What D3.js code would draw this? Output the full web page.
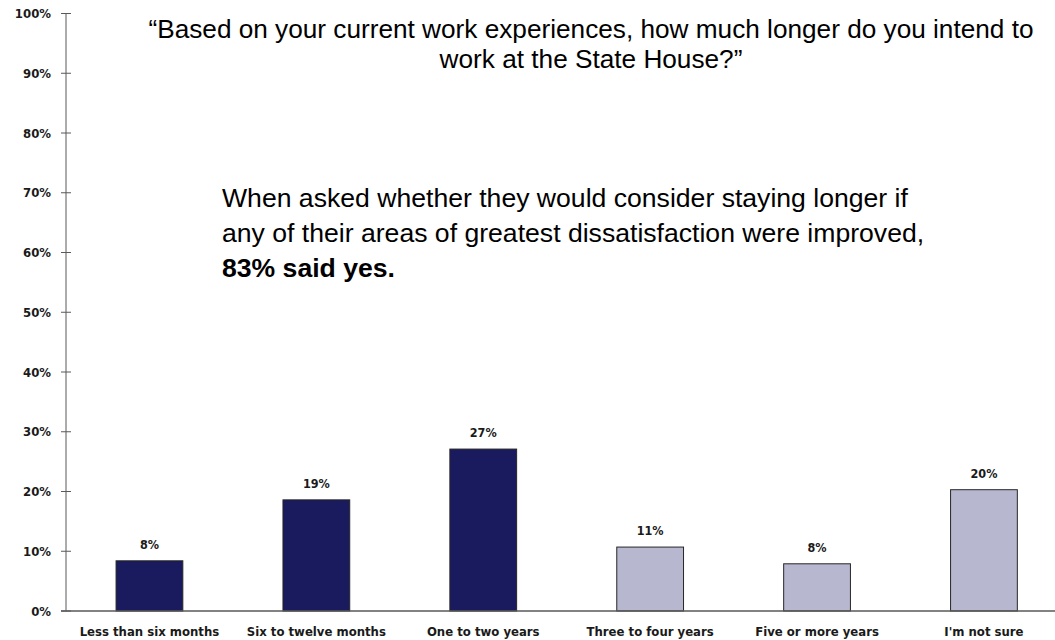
<!DOCTYPE html>
<html>
<head>
<meta charset="utf-8">
<script src="https://cdn.jsdelivr.net/npm/d3@7"></script>
<style>
  html, body { margin: 0; padding: 0; background: #fff; }
  svg { display: block; }
</style>
</head>
<body>
<svg id="chart" width="1055" height="640"></svg>
<script>
// Survey responses: intended remaining tenure at the State House
const categories = [
  "Less than six months",
  "Six to twelve months",
  "One to two years",
  "Three to four years",
  "Five or more years",
  "I'm not sure"
];
const shares = [8.4, 18.6, 27.1, 10.7, 7.9, 20.3];
const groups = ["short", "short", "short", "long", "long", "long"];
const yTicks = [0, 10, 20, 30, 40, 50, 60, 70, 80, 90, 100];

const titleLines = [
  "\u201CBased on your current work experiences, how much longer do you intend to",
  "work at the State House?\u201D"
];
const noteLines = [
  "When asked whether they would consider staying longer if",
  "any of their areas of greatest dissatisfaction were improved,"
];
const noteEmphasis = "83% said yes.";

const svg = d3.select("#chart");
const W = 1055, H = 640;
const plotLeft = 66, plotRight = 1067.4, plotTop = 13.5, plotBottom = 611;

const condensed = "'Liberation Sans Narrow', 'DejaVu Sans Condensed', 'Arial Narrow', sans-serif";
const sans = "'Liberation Sans', Arial, sans-serif";

const x = d3.scaleBand().domain(categories).range([plotLeft, plotRight]).paddingInner(0.6).paddingOuter(0.3);
const y = d3.scaleLinear().domain([0, 100]).range([plotBottom, plotTop]);
const fill = d3.scaleOrdinal().domain(["short", "long"]).range(["#1a1a5e", "#b7b8d0"]);

// Y axis with crossing tick marks
const yAxis = svg.append("g").attr("transform", `translate(${plotLeft},0)`);
yAxis.append("line")
  .attr("x1", 0).attr("x2", 0).attr("y1", y(100)).attr("y2", y(0))
  .attr("stroke", "#595959").attr("stroke-width", 1);
yAxis.selectAll("line.tick").data(yTicks).join("line")
  .attr("class", "tick")
  .attr("x1", -5).attr("x2", 5)
  .attr("y1", d => y(d)).attr("y2", d => y(d))
  .attr("stroke", "#595959").attr("stroke-width", 1);
yAxis.selectAll("text").data(yTicks).join("text")
  .attr("x", -15).attr("y", d => y(d)).attr("dy", "0.35em")
  .attr("text-anchor", "end")
  .attr("font-family", condensed).attr("font-weight", "bold").attr("font-size", 13)
  .attr("fill", "#1a1a1a")
  .text(d => d + "%");

// Bars
svg.append("g").selectAll("rect").data(categories).join("rect")
  .attr("x", d => x(d))
  .attr("y", (d, i) => y(shares[i]))
  .attr("width", x.bandwidth())
  .attr("height", (d, i) => y(0) - y(shares[i]))
  .attr("fill", (d, i) => fill(groups[i]))
  .attr("stroke", "#262626").attr("stroke-width", 1);

// Baseline
svg.append("line")
  .attr("x1", plotLeft - 5).attr("x2", W).attr("y1", y(0)).attr("y2", y(0))
  .attr("stroke", "#595959").attr("stroke-width", 1.3);

// Value labels
svg.append("g").selectAll("text").data(categories).join("text")
  .attr("x", d => x(d) + x.bandwidth() / 2)
  .attr("y", (d, i) => y(shares[i]) - 12)
  .attr("text-anchor", "middle")
  .attr("font-family", condensed).attr("font-weight", "bold").attr("font-size", 12.5)
  .attr("fill", "#1a1a1a")
  .text((d, i) => Math.round(shares[i]) + "%");

// Category labels
svg.append("g").selectAll("text").data(categories).join("text")
  .attr("x", d => x(d) + x.bandwidth() / 2)
  .attr("y", 636)
  .attr("text-anchor", "middle")
  .attr("font-family", condensed).attr("font-weight", "bold").attr("font-size", 13)
  .attr("fill", "#1a1a1a")
  .text(d => d);

// Question title
svg.append("g").selectAll("text").data(titleLines).join("text")
  .attr("x", 591).attr("y", (d, i) => 38 + i * 30)
  .attr("text-anchor", "middle")
  .attr("font-family", sans).attr("font-size", 26.2)
  .attr("fill", "#000")
  .text(d => d);

// Follow-up note
const note = svg.append("g").attr("font-family", sans).attr("font-size", 26.6).attr("fill", "#000");
note.selectAll("text.line").data(noteLines).join("text")
  .attr("class", "line")
  .attr("x", 222).attr("y", (d, i) => 207 + i * 35)
  .text(d => d);
note.append("text")
  .attr("x", 222).attr("y", 277)
  .attr("font-weight", "bold")
  .text(noteEmphasis);
</script>
</body>
</html>
